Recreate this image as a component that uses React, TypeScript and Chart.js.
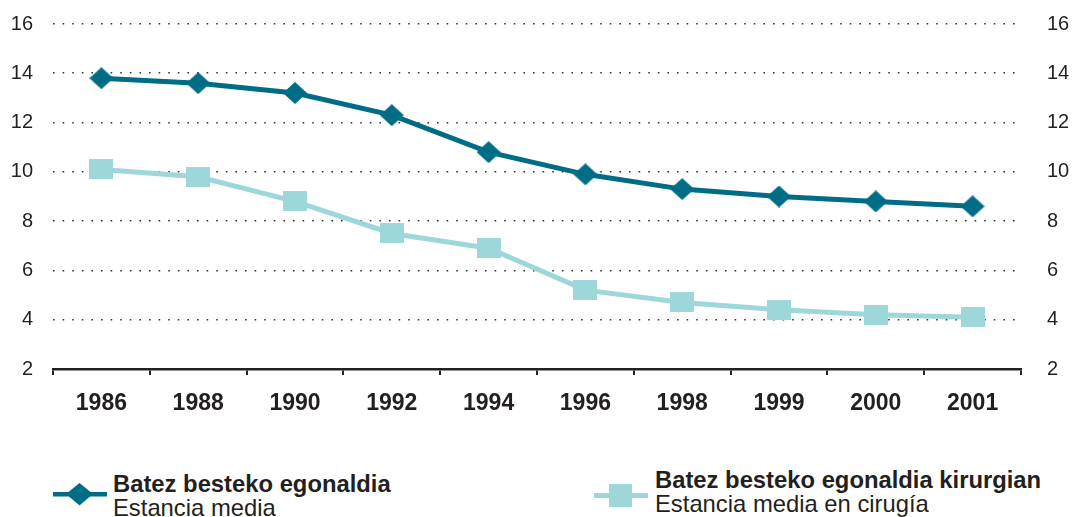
import React, { useEffect, useRef } from "react";
import { Chart, registerables } from "chart.js";

Chart.register(...registerables);

const years = ["1986", "1988", "1990", "1992", "1994", "1996", "1998", "1999", "2000", "2001"];
const estanciaMedia = [13.8, 13.6, 13.2, 12.3, 10.8, 9.9, 9.3, 9.0, 8.8, 8.6];
const estanciaCirugia = [10.1, 9.8, 8.8, 7.5, 6.9, 5.2, 4.7, 4.4, 4.2, 4.1];
const yTicks = [2, 4, 6, 8, 10, 12, 14, 16];

const label1Bold = "Batez besteko egonaldia";
const label1 = "Estancia media";
const label2Bold = "Batez besteko egonaldia kirurgian";
const label2 = "Estancia media en cirugía";

const DARK = "#006d87";
const LIGHT = "#9dd7da";
const FONT = "'Liberation Sans', Arial, Helvetica, sans-serif";

function makeDiamond(w: number, h: number, color: string) {
  const c = document.createElement("canvas");
  c.width = w;
  c.height = h;
  const ctx = c.getContext("2d")!;
  ctx.fillStyle = color;
  ctx.beginPath();
  ctx.moveTo(w / 2, 0);
  ctx.lineTo(w, h / 2);
  ctx.lineTo(w / 2, h);
  ctx.lineTo(0, h / 2);
  ctx.closePath();
  ctx.fill();
  return c;
}

function makeRect(w: number, h: number, color: string) {
  const c = document.createElement("canvas");
  c.width = w;
  c.height = h;
  const ctx = c.getContext("2d")!;
  ctx.fillStyle = color;
  ctx.fillRect(0, 0, w, h);
  return c;
}

export default function App() {
  const ref = useRef<HTMLCanvasElement | null>(null);

  useEffect(() => {
    if (!ref.current) return;
    const diamond = makeDiamond(24, 22, DARK);
    const square = makeRect(24, 20, LIGHT);
    const chart = new Chart(ref.current, {
      type: "line",
      data: {
        labels: years,
        datasets: [
          {
            label: label2Bold,
            data: estanciaCirugia,
            borderColor: LIGHT,
            backgroundColor: LIGHT,
            borderWidth: 5,
            pointStyle: square as any,
            pointRadius: 10,
            tension: 0,
          },
          {
            label: label1Bold,
            data: estanciaMedia,
            borderColor: DARK,
            backgroundColor: DARK,
            borderWidth: 5,
            pointStyle: diamond as any,
            pointRadius: 10,
            tension: 0,
          },
        ],
      },
      options: {
        responsive: false,
        animation: false,
        devicePixelRatio: 1,
        layout: { padding: { top: 24, left: 0, right: 0, bottom: 0 } },
        plugins: { legend: { display: false }, tooltip: { enabled: false } },
        scales: {
          x: {
            type: "category",
            offset: true,
            grid: {
              display: true,
              offset: true,
              drawOnChartArea: false,
              drawTicks: true,
              tickLength: 6,
              color: "#222",
              lineWidth: 2,
            },
            border: { display: true, color: "#222", width: 2.5 },
            ticks: {
              color: "#231f20",
              font: { family: FONT, size: 23, weight: "bold" },
              padding: 15,
              maxRotation: 0,
              autoSkip: false,
            },
            afterFit: (s: any) => {
              s.height = 71;
            },
          },
          y: {
            position: "left",
            min: 2,
            max: 16,
            afterBuildTicks: (s: any) => {
              s.ticks = yTicks.map((v) => ({ value: v }));
            },
            grid: {
              display: true,
              drawTicks: false,
              color: "#333",
              lineWidth: 1.6,
            },
            border: { display: false, dash: [1.6, 8] },
            ticks: {
              color: "#231f20",
              font: { family: FONT, size: 20 },
              padding: 20,
            },
            afterFit: (s: any) => {
              s.width = 53;
              s.paddingTop = 0;
              s.paddingBottom = 0;
            },
          },
          y2: {
            position: "right",
            min: 2,
            max: 16,
            afterBuildTicks: (s: any) => {
              s.ticks = yTicks.map((v) => ({ value: v }));
            },
            grid: { display: false, drawTicks: false },
            border: { display: false },
            ticks: {
              color: "#231f20",
              font: { family: FONT, size: 20 },
              padding: 26,
            },
            afterFit: (s: any) => {
              s.width = 52;
              s.paddingTop = 0;
              s.paddingBottom = 0;
            },
          },
        },
      },
    });
    return () => chart.destroy();
  }, []);

  const textBold: React.CSSProperties = {
    fontFamily: FONT,
    fontWeight: "bold",
    fontSize: "23.8px",
    lineHeight: "24px",
    color: "#231f20",
    whiteSpace: "nowrap",
  };
  const textReg: React.CSSProperties = { ...textBold, fontWeight: "normal" };

  return (
    <div
      style={{
        position: "absolute",
        left: 0,
        top: 0,
        width: 1073,
        height: 517,
        overflow: "hidden",
        background: "#fff",
      }}
    >
      <canvas ref={ref} width={1073} height={440} style={{ display: "block" }} />
      <svg
        style={{ position: "absolute", left: 0, top: 440 }}
        width={1073}
        height={77}
      >
        <rect x={53} y={52} width={54} height={4.5} fill={DARK} />
        <polygon points="79.5,43 93,54 79.5,65.5 66,54" fill={DARK} />
        <rect x={594} y={53} width={54} height={5} fill={LIGHT} />
        <rect x={609} y={44} width={23} height={23} fill={LIGHT} />
      </svg>
      <div style={{ position: "absolute", left: 113, top: 472 }}>
        <div style={textBold}>{label1Bold}</div>
        <div style={textReg}>{label1}</div>
      </div>
      <div style={{ position: "absolute", left: 655, top: 468 }}>
        <div style={textBold}>{label2Bold}</div>
        <div style={textReg}>{label2}</div>
      </div>
    </div>
  );
}
